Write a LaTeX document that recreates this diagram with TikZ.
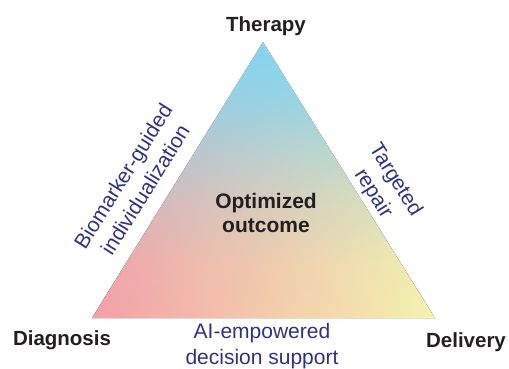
\documentclass[tikz,border=0pt]{standalone}
\usepackage{fontspec}
\setmainfont{Liberation Sans}
\usetikzlibrary{fadings,positioning}

\definecolor{therapycol}{RGB}{134,212,239}
\definecolor{diagcol}{RGB}{244,160,168}
\definecolor{delivcol}{RGB}{245,243,174}
\definecolor{sidetext}{RGB}{46,49,140}
\definecolor{cornertext}{RGB}{35,31,32}

% Therapy-Farbe verblasst nach unten (Pfad liegt zwischen 25bp und 75bp)
\pgfdeclareverticalshading{therapymask}{100bp}{color(0bp)=(pgftransparent!100); color(25bp)=(pgftransparent!100); color(35bp)=(pgftransparent!95); color(47.5bp)=(pgftransparent!70); color(57.5bp)=(pgftransparent!40); color(65bp)=(pgftransparent!15); color(75bp)=(pgftransparent!0); color(100bp)=(pgftransparent!0)}
\pgfdeclarefading{therapyfade}{\pgfuseshading{therapymask}}

\begin{document}
\begin{tikzpicture}[
  x=1pt, y=1pt,
  corner/.style={font=\fontsize{20.5}{24}\selectfont\bfseries, text=cornertext, inner sep=0pt},
  side/.style={font=\fontsize{21}{26}\selectfont, text=sidetext, align=center, inner sep=0pt},
  hub/.style={font=\fontsize{21}{24}\selectfont\bfseries, text=cornertext, align=center, inner sep=0pt}
]
\useasboundingbox (0,0) rectangle (509,368);

% Ecken
\coordinate (ther) at (263,326);
\coordinate (diag) at (92,50);
\coordinate (deliv) at (435,50);

% Dreieck
\fill[left color=diagcol, right color=delivcol] (diag) -- (ther) -- (deliv) -- cycle;
\fill[therapycol, path fading=therapyfade] (diag) -- (ther) -- (deliv) -- cycle;

% Eckbeschriftungen
\node[corner, anchor=base] (therapy) at (266,337) {Therapy};
\node[corner, anchor=base] (diagnosis) at (62,23) {Diagnosis};
\node[corner, anchor=base] (delivery) at (466,21) {Delivery};

% Seiten
\node[side, rotate=58] (biomarker) at (134,185) {Biomarker-guided\\individualization};
\node[side, rotate=-58] (repair) at (384,181) {Targeted\\repair};
\node[side] (aisupport) at (262,22) {AI-empowered\\decision support};

% Mitte
\node[hub] (outcome) at (266,155) {Optimized\\outcome};

\end{tikzpicture}
\end{document}
